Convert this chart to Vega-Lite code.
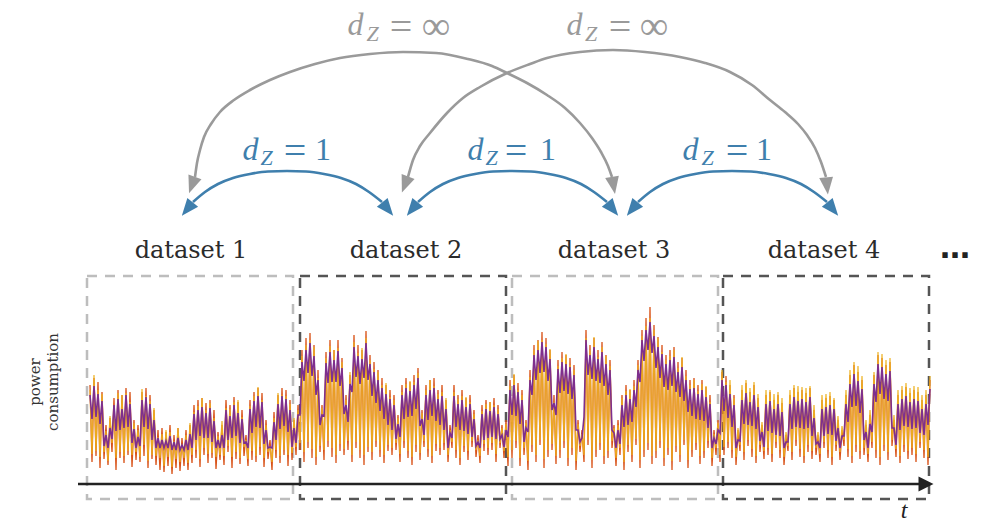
{
"$schema":"https://vega.github.io/schema/vega-lite/v6.json",
"width":982,"height":527,"padding":0,"autosize":{"type":"none"},"background":"white",
"config":{"view":{"stroke":null}},
"datasets":{
"boxes":[{"x":87,"x2":293,"y":276,"y2":499,"k":"light"},{"x":300,"x2":506,"y":276,"y2":499,"k":"dark"},{"x":512,"x2":718,"y":276,"y2":499,"k":"light"},{"x":723,"x2":929,"y":276,"y2":499,"k":"dark"}],
"ts":[
{"x":90,"r":385,"o":390,"p":395},{"x":92,"r":462,"o":454,"p":419},{"x":94,"r":378,"o":375,"p":386},{"x":96,"r":456,"o":451,"p":417},{"x":98,"r":382,"o":390,"p":394},{"x":100,"r":468,"o":457,"p":424},{"x":102,"r":392,"o":394,"p":401},{"x":104,"r":459,"o":452,"p":446},{"x":106,"r":425,"o":431,"p":435},{"x":108,"r":465,"o":461,"p":448},{"x":110,"r":418,"o":416,"p":428},{"x":112,"r":452,"o":443,"p":439},{"x":114,"r":398,"o":408,"p":405},{"x":116,"r":470,"o":458,"p":431},{"x":118,"r":390,"o":393,"p":399},{"x":120,"r":458,"o":452,"p":430},{"x":122,"r":395,"o":395,"p":409},{"x":124,"r":463,"o":456,"p":428},{"x":126,"r":388,"o":393,"p":395},{"x":128,"r":455,"o":451,"p":427},{"x":130,"r":392,"o":402,"p":404},{"x":132,"r":467,"o":455,"p":443},{"x":134,"r":420,"o":423,"p":429},{"x":136,"r":460,"o":452,"p":448},{"x":138,"r":425,"o":430,"p":437},{"x":140,"r":462,"o":457,"p":446},{"x":142,"r":392,"o":389,"p":400},{"x":144,"r":456,"o":445,"p":427},{"x":146,"r":388,"o":396,"p":397},{"x":148,"r":468,"o":461,"p":429},{"x":150,"r":395,"o":401,"p":404},{"x":152,"r":459,"o":455,"p":440},{"x":154,"r":410,"o":408,"p":420},{"x":156,"r":465,"o":456,"p":448},{"x":158,"r":430,"o":437,"p":438},{"x":160,"r":470,"o":458,"p":448},{"x":162,"r":428,"o":434,"p":440},{"x":164,"r":472,"o":466,"p":448},{"x":166,"r":432,"o":430,"p":441},{"x":168,"r":466,"o":457,"p":448},{"x":170,"r":425,"o":432,"p":436},{"x":172,"r":474,"o":467,"p":450},{"x":174,"r":435,"o":441,"p":442},{"x":176,"r":468,"o":459,"p":450},{"x":178,"r":428,"o":428,"p":438},{"x":180,"r":471,"o":462,"p":450},{"x":182,"r":438,"o":444,"p":445},{"x":184,"r":466,"o":458,"p":450},{"x":186,"r":430,"o":435,"p":440},{"x":188,"r":470,"o":463,"p":450},{"x":190,"r":425,"o":423,"p":434},{"x":192,"r":463,"o":455,"p":448},{"x":194,"r":405,"o":412,"p":414},{"x":196,"r":458,"o":450,"p":440},{"x":198,"r":400,"o":406,"p":410},{"x":200,"r":467,"o":459,"p":436},{"x":202,"r":398,"o":398,"p":407},{"x":204,"r":455,"o":448,"p":438},{"x":206,"r":403,"o":410,"p":413},{"x":208,"r":463,"o":454,"p":438},{"x":210,"r":400,"o":403,"p":408},{"x":212,"r":458,"o":453,"p":442},{"x":214,"r":410,"o":418,"p":421},{"x":216,"r":469,"o":457,"p":448},{"x":218,"r":432,"o":436,"p":440},{"x":220,"r":460,"o":455,"p":448},{"x":222,"r":425,"o":421,"p":435},{"x":224,"r":465,"o":456,"p":448},{"x":226,"r":400,"o":408,"p":410},{"x":228,"r":452,"o":446,"p":440},{"x":230,"r":405,"o":409,"p":416},{"x":232,"r":468,"o":457,"p":438},{"x":234,"r":397,"o":402,"p":405},{"x":236,"r":459,"o":452,"p":436},{"x":238,"r":402,"o":400,"p":413},{"x":240,"r":464,"o":458,"p":443},{"x":242,"r":410,"o":417,"p":419},{"x":244,"r":456,"o":447,"p":443},{"x":246,"r":435,"o":440,"p":442},{"x":248,"r":466,"o":459,"p":448},{"x":250,"r":400,"o":406,"p":409},{"x":252,"r":460,"o":451,"p":433},{"x":254,"r":392,"o":396,"p":401},{"x":256,"r":462,"o":456,"p":427},{"x":258,"r":388,"o":387,"p":396},{"x":260,"r":455,"o":447,"p":428},{"x":262,"r":393,"o":400,"p":402},{"x":264,"r":467,"o":458,"p":444},{"x":266,"r":420,"o":425,"p":430},{"x":268,"r":459,"o":452,"p":448},{"x":270,"r":440,"o":446,"p":447},{"x":272,"r":470,"o":462,"p":448},{"x":274,"r":412,"o":418,"p":422},{"x":276,"r":458,"o":450,"p":440},{"x":278,"r":395,"o":393,"p":404},{"x":280,"r":463,"o":456,"p":429},{"x":282,"r":388,"o":395,"p":396},{"x":284,"r":455,"o":450,"p":426},{"x":286,"r":390,"o":396,"p":399},{"x":288,"r":466,"o":455,"p":432},{"x":290,"r":400,"o":404,"p":410},{"x":292,"r":460,"o":453,"p":447},{"x":294,"r":420,"o":418,"p":428},{"x":296,"r":455,"o":447,"p":443},{"x":298,"r":405,"o":410,"p":415},{"x":300,"r":450,"o":443,"p":415},
{"x":302,"r":350,"o":356,"p":362},{"x":304,"r":462,"o":452,"p":381},{"x":306,"r":338,"o":345,"p":350},{"x":308,"r":448,"o":442,"p":373},{"x":310,"r":333,"o":340,"p":343},{"x":312,"r":458,"o":449,"p":376},{"x":314,"r":345,"o":347,"p":356},{"x":316,"r":465,"o":457,"p":395},{"x":318,"r":370,"o":378,"p":380},{"x":320,"r":452,"o":446,"p":425},{"x":322,"r":405,"o":408,"p":415},{"x":324,"r":460,"o":450,"p":416},{"x":326,"r":352,"o":358,"p":363},{"x":328,"r":447,"o":441,"p":383},{"x":330,"r":340,"o":346,"p":352},{"x":332,"r":457,"o":448,"p":382},{"x":334,"r":350,"o":350,"p":360},{"x":336,"r":463,"o":455,"p":382},{"x":338,"r":340,"o":348,"p":351},{"x":340,"r":451,"o":444,"p":386},{"x":342,"r":358,"o":362,"p":368},{"x":344,"r":455,"o":449,"p":414},{"x":346,"r":395,"o":400,"p":405},{"x":348,"r":450,"o":441,"p":422},{"x":350,"r":375,"o":372,"p":384},{"x":352,"r":462,"o":455,"p":392},{"x":354,"r":335,"o":342,"p":347},{"x":356,"r":448,"o":442,"p":377},{"x":358,"r":345,"o":353,"p":356},{"x":360,"r":458,"o":450,"p":384},{"x":362,"r":350,"o":348,"p":359},{"x":364,"r":465,"o":455,"p":378},{"x":366,"r":331,"o":338,"p":343},{"x":368,"r":452,"o":447,"p":380},{"x":370,"r":355,"o":360,"p":364},{"x":372,"r":460,"o":452,"p":396},{"x":374,"r":362,"o":369,"p":372},{"x":376,"r":447,"o":441,"p":403},{"x":378,"r":370,"o":372,"p":380},{"x":380,"r":457,"o":450,"p":411},{"x":382,"r":378,"o":385,"p":388},{"x":384,"r":463,"o":455,"p":419},{"x":386,"r":385,"o":383,"p":394},{"x":388,"r":451,"o":445,"p":425},{"x":390,"r":390,"o":397,"p":399},{"x":392,"r":455,"o":448,"p":430},{"x":394,"r":395,"o":400,"p":405},{"x":396,"r":450,"o":443,"p":439},{"x":398,"r":415,"o":418,"p":424},{"x":400,"r":462,"o":454,"p":437},{"x":402,"r":385,"o":392,"p":395},{"x":404,"r":448,"o":441,"p":419},{"x":406,"r":378,"o":384,"p":388},{"x":408,"r":458,"o":451,"p":417},{"x":410,"r":382,"o":381,"p":391},{"x":412,"r":465,"o":457,"p":416},{"x":414,"r":375,"o":382,"p":385},{"x":416,"r":452,"o":445,"p":409},{"x":418,"r":368,"o":373,"p":378},{"x":420,"r":460,"o":453,"p":426},{"x":422,"r":410,"o":413,"p":419},{"x":424,"r":447,"o":441,"p":435},{"x":426,"r":385,"o":390,"p":395},{"x":428,"r":457,"o":449,"p":420},{"x":430,"r":380,"o":380,"p":390},{"x":432,"r":463,"o":456,"p":416},{"x":434,"r":378,"o":386,"p":388},{"x":436,"r":451,"o":444,"p":421},{"x":438,"r":390,"o":394,"p":399},{"x":440,"r":455,"o":448,"p":425},{"x":442,"r":385,"o":392,"p":396},{"x":444,"r":450,"o":443,"p":430},{"x":446,"r":400,"o":398,"p":409},{"x":448,"r":462,"o":455,"p":448},{"x":450,"r":425,"o":430,"p":433},{"x":452,"r":448,"o":442,"p":438},{"x":454,"r":385,"o":392,"p":396},{"x":456,"r":458,"o":450,"p":427},{"x":458,"r":395,"o":399,"p":404},{"x":460,"r":465,"o":458,"p":430},{"x":462,"r":390,"o":396,"p":400},{"x":464,"r":452,"o":446,"p":431},{"x":466,"r":398,"o":397,"p":407},{"x":468,"r":460,"o":451,"p":434},{"x":470,"r":395,"o":402,"p":404},{"x":472,"r":447,"o":441,"p":437},{"x":474,"r":410,"o":414,"p":419},{"x":476,"r":457,"o":450,"p":446},{"x":478,"r":435,"o":440,"p":442},{"x":480,"r":463,"o":456,"p":448},{"x":482,"r":405,"o":411,"p":414},{"x":484,"r":451,"o":444,"p":440},{"x":486,"r":400,"o":404,"p":409},{"x":488,"r":455,"o":448,"p":438},{"x":490,"r":402,"o":402,"p":411},{"x":492,"r":450,"o":443,"p":437},{"x":494,"r":398,"o":405,"p":407},{"x":496,"r":462,"o":454,"p":439},{"x":498,"r":405,"o":409,"p":414},{"x":500,"r":448,"o":443,"p":439},{"x":502,"r":425,"o":428,"p":435},{"x":504,"r":458,"o":451,"p":447},{"x":506,"r":420,"o":424,"p":430},{"x":508,"r":466,"o":457,"p":437},
{"x":510,"r":380,"o":386,"p":390},{"x":512,"r":458,"o":450,"p":415},{"x":514,"r":375,"o":374,"p":385},{"x":516,"r":448,"o":441,"p":416},{"x":518,"r":383,"o":390,"p":392},{"x":520,"r":466,"o":458,"p":424},{"x":522,"r":390,"o":395,"p":400},{"x":524,"r":455,"o":448,"p":442},{"x":526,"r":420,"o":423,"p":428},{"x":528,"r":470,"o":461,"p":432},{"x":530,"r":370,"o":377,"p":380},{"x":532,"r":452,"o":445,"p":395},{"x":534,"r":345,"o":350,"p":355},{"x":536,"r":462,"o":455,"p":380},{"x":538,"r":340,"o":341,"p":350},{"x":540,"r":445,"o":440,"p":373},{"x":542,"r":332,"o":340,"p":342},{"x":544,"r":468,"o":459,"p":372},{"x":546,"r":338,"o":344,"p":347},{"x":548,"r":457,"o":450,"p":381},{"x":550,"r":350,"o":349,"p":359},{"x":552,"r":450,"o":444,"p":410},{"x":554,"r":395,"o":402,"p":403},{"x":556,"r":464,"o":456,"p":415},{"x":558,"r":360,"o":366,"p":369},{"x":560,"r":458,"o":450,"p":393},{"x":562,"r":352,"o":358,"p":362},{"x":564,"r":448,"o":441,"p":391},{"x":566,"r":355,"o":354,"p":364},{"x":568,"r":466,"o":458,"p":394},{"x":570,"r":358,"o":365,"p":367},{"x":572,"r":455,"o":448,"p":399},{"x":574,"r":365,"o":370,"p":375},{"x":576,"r":470,"o":461,"p":430},{"x":578,"r":420,"o":424,"p":430},{"x":580,"r":452,"o":446,"p":442},{"x":582,"r":430,"o":434,"p":438},{"x":584,"r":462,"o":455,"p":417},{"x":586,"r":330,"o":338,"p":340},{"x":588,"r":445,"o":440,"p":375},{"x":590,"r":345,"o":350,"p":355},{"x":592,"r":468,"o":460,"p":379},{"x":594,"r":338,"o":337,"p":347},{"x":596,"r":457,"o":450,"p":381},{"x":598,"r":350,"o":357,"p":359},{"x":600,"r":450,"o":443,"p":383},{"x":602,"r":342,"o":347,"p":352},{"x":604,"r":464,"o":456,"p":386},{"x":606,"r":355,"o":356,"p":364},{"x":608,"r":458,"o":451,"p":395},{"x":610,"r":360,"o":366,"p":370},{"x":612,"r":448,"o":441,"p":430},{"x":614,"r":425,"o":428,"p":433},{"x":616,"r":466,"o":458,"p":448},{"x":618,"r":420,"o":425,"p":430},{"x":620,"r":455,"o":448,"p":444},{"x":622,"r":395,"o":398,"p":405},{"x":624,"r":470,"o":462,"p":427},{"x":626,"r":385,"o":391,"p":395},{"x":628,"r":452,"o":445,"p":425},{"x":630,"r":390,"o":389,"p":399},{"x":632,"r":462,"o":455,"p":422},{"x":634,"r":380,"o":386,"p":390},{"x":636,"r":445,"o":439,"p":407},{"x":638,"r":360,"o":365,"p":370},{"x":640,"r":468,"o":460,"p":382},{"x":642,"r":330,"o":336,"p":340},{"x":644,"r":457,"o":450,"p":361},{"x":646,"r":318,"o":326,"p":330},{"x":648,"r":450,"o":443,"p":350},{"x":650,"r":307,"o":318,"p":322},{"x":652,"r":464,"o":456,"p":353},{"x":654,"r":325,"o":330,"p":336},{"x":656,"r":458,"o":451,"p":368},{"x":658,"r":337,"o":338,"p":347},{"x":660,"r":448,"o":441,"p":378},{"x":662,"r":345,"o":352,"p":354},{"x":664,"r":466,"o":458,"p":387},{"x":666,"r":355,"o":360,"p":364},{"x":668,"r":455,"o":448,"p":390},{"x":670,"r":350,"o":356,"p":360},{"x":672,"r":470,"o":461,"p":386},{"x":674,"r":347,"o":350,"p":357},{"x":676,"r":452,"o":446,"p":392},{"x":678,"r":362,"o":368,"p":372},{"x":680,"r":462,"o":455,"p":397},{"x":682,"r":358,"o":357,"p":367},{"x":684,"r":445,"o":440,"p":401},{"x":686,"r":370,"o":376,"p":380},{"x":688,"r":468,"o":460,"p":412},{"x":690,"r":380,"o":385,"p":389},{"x":692,"r":457,"o":450,"p":416},{"x":694,"r":378,"o":380,"p":388},{"x":696,"r":450,"o":443,"p":419},{"x":698,"r":385,"o":391,"p":394},{"x":700,"r":464,"o":456,"p":420},{"x":702,"r":380,"o":384,"p":390},{"x":704,"r":458,"o":451,"p":421},{"x":706,"r":387,"o":386,"p":397},{"x":708,"r":448,"o":441,"p":428},{"x":710,"r":395,"o":402,"p":404},{"x":712,"r":466,"o":458,"p":448},{"x":714,"r":430,"o":434,"p":438},{"x":716,"r":455,"o":448,"p":444},{"x":718,"r":420,"o":423,"p":430},{"x":720,"r":462,"o":455,"p":433},
{"x":722,"r":372,"o":370,"p":380},{"x":724,"r":455,"o":447,"p":411},{"x":726,"r":376,"o":382,"p":385},{"x":728,"r":448,"o":442,"p":418},{"x":730,"r":385,"o":380,"p":394},{"x":732,"r":458,"o":450,"p":427},{"x":734,"r":395,"o":398,"p":405},{"x":736,"r":465,"o":457,"p":448},{"x":738,"r":430,"o":428,"p":440},{"x":740,"r":451,"o":445,"p":441},{"x":742,"r":390,"o":385,"p":400},{"x":744,"r":460,"o":452,"p":424},{"x":746,"r":383,"o":380,"p":393},{"x":748,"r":446,"o":440,"p":425},{"x":750,"r":392,"o":388,"p":402},{"x":752,"r":457,"o":449,"p":426},{"x":754,"r":385,"o":382,"p":395},{"x":756,"r":463,"o":456,"p":429},{"x":758,"r":398,"o":394,"p":407},{"x":760,"r":452,"o":445,"p":441},{"x":762,"r":425,"o":422,"p":432},{"x":764,"r":459,"o":451,"p":447},{"x":766,"r":395,"o":390,"p":404},{"x":768,"r":455,"o":448,"p":431},{"x":770,"r":392,"o":390,"p":401},{"x":772,"r":462,"o":454,"p":433},{"x":774,"r":400,"o":394,"p":409},{"x":776,"r":448,"o":442,"p":435},{"x":778,"r":395,"o":392,"p":404},{"x":780,"r":458,"o":450,"p":436},{"x":782,"r":403,"o":398,"p":412},{"x":784,"r":465,"o":457,"p":448},{"x":786,"r":435,"o":432,"p":442},{"x":788,"r":451,"o":446,"p":442},{"x":790,"r":395,"o":390,"p":404},{"x":792,"r":460,"o":452,"p":429},{"x":794,"r":388,"o":385,"p":397},{"x":796,"r":446,"o":440,"p":427},{"x":798,"r":392,"o":386,"p":401},{"x":800,"r":457,"o":449,"p":428},{"x":802,"r":390,"o":387,"p":399},{"x":804,"r":463,"o":456,"p":429},{"x":806,"r":393,"o":388,"p":402},{"x":808,"r":452,"o":445,"p":428},{"x":810,"r":388,"o":386,"p":397},{"x":812,"r":459,"o":451,"p":436},{"x":814,"r":410,"o":405,"p":418},{"x":816,"r":455,"o":448,"p":444},{"x":818,"r":435,"o":432,"p":442},{"x":820,"r":462,"o":454,"p":448},{"x":822,"r":400,"o":395,"p":409},{"x":824,"r":448,"o":442,"p":436},{"x":826,"r":398,"o":394,"p":407},{"x":828,"r":458,"o":450,"p":434},{"x":830,"r":396,"o":392,"p":405},{"x":832,"r":465,"o":457,"p":435},{"x":834,"r":400,"o":398,"p":409},{"x":836,"r":451,"o":445,"p":441},{"x":838,"r":420,"o":416,"p":428},{"x":840,"r":460,"o":452,"p":448},{"x":842,"r":430,"o":426,"p":436},{"x":844,"r":446,"o":440,"p":436},{"x":846,"r":395,"o":390,"p":404},{"x":848,"r":457,"o":449,"p":422},{"x":850,"r":375,"o":370,"p":384},{"x":852,"r":463,"o":456,"p":407},{"x":854,"r":365,"o":362,"p":374},{"x":856,"r":452,"o":445,"p":406},{"x":858,"r":372,"o":366,"p":381},{"x":860,"r":459,"o":451,"p":413},{"x":862,"r":380,"o":376,"p":389},{"x":864,"r":455,"o":448,"p":440},{"x":866,"r":425,"o":420,"p":432},{"x":868,"r":462,"o":454,"p":448},{"x":870,"r":415,"o":410,"p":424},{"x":872,"r":448,"o":442,"p":432},{"x":874,"r":375,"o":372,"p":384},{"x":876,"r":458,"o":450,"p":402},{"x":878,"r":355,"o":352,"p":364},{"x":880,"r":465,"o":457,"p":394},{"x":882,"r":358,"o":354,"p":367},{"x":884,"r":451,"o":445,"p":399},{"x":886,"r":365,"o":360,"p":374},{"x":888,"r":460,"o":452,"p":401},{"x":890,"r":362,"o":358,"p":371},{"x":892,"r":446,"o":440,"p":428},{"x":894,"r":420,"o":415,"p":428},{"x":896,"r":457,"o":449,"p":445},{"x":898,"r":395,"o":390,"p":404},{"x":900,"r":463,"o":456,"p":430},{"x":902,"r":390,"o":386,"p":399},{"x":904,"r":452,"o":445,"p":426},{"x":906,"r":387,"o":383,"p":396},{"x":908,"r":459,"o":451,"p":427},{"x":910,"r":393,"o":388,"p":402},{"x":912,"r":455,"o":448,"p":429},{"x":914,"r":390,"o":386,"p":399},{"x":916,"r":462,"o":454,"p":428},{"x":918,"r":392,"o":387,"p":401},{"x":920,"r":448,"o":442,"p":433},{"x":922,"r":400,"o":395,"p":409},{"x":924,"r":458,"o":450,"p":435},{"x":926,"r":395,"o":390,"p":404},{"x":928,"r":465,"o":457,"p":425},{"x":930,"r":380,"o":376,"p":389}
],
"arcs":[
{"id":"g1","k":"inf","x":195,"y":177},{"id":"g1","k":"inf","x":197,"y":163},{"id":"g1","k":"inf","x":200,"y":150},{"id":"g1","k":"inf","x":204,"y":137},{"id":"g1","k":"inf","x":211,"y":124},{"id":"g1","k":"inf","x":220,"y":112},{"id":"g1","k":"inf","x":234,"y":100},{"id":"g1","k":"inf","x":250,"y":90},{"id":"g1","k":"inf","x":270,"y":80},{"id":"g1","k":"inf","x":290,"y":72},{"id":"g1","k":"inf","x":315,"y":64},{"id":"g1","k":"inf","x":340,"y":58},{"id":"g1","k":"inf","x":370,"y":54},{"id":"g1","k":"inf","x":403,"y":52},{"id":"g1","k":"inf","x":436,"y":53},{"id":"g1","k":"inf","x":468,"y":59},{"id":"g1","k":"inf","x":492,"y":66},{"id":"g1","k":"inf","x":507,"y":73},{"id":"g1","k":"inf","x":527,"y":83},{"id":"g1","k":"inf","x":547,"y":95},{"id":"g1","k":"inf","x":565,"y":108},{"id":"g1","k":"inf","x":580,"y":123},{"id":"g1","k":"inf","x":592,"y":138},{"id":"g1","k":"inf","x":601,"y":152},{"id":"g1","k":"inf","x":608,"y":166},{"id":"g1","k":"inf","x":612,"y":177},
{"id":"g2","k":"inf","x":408,"y":177},{"id":"g2","k":"inf","x":413,"y":160},{"id":"g2","k":"inf","x":420,"y":146},{"id":"g2","k":"inf","x":430,"y":133},{"id":"g2","k":"inf","x":447,"y":113},{"id":"g2","k":"inf","x":463,"y":98},{"id":"g2","k":"inf","x":480,"y":87},{"id":"g2","k":"inf","x":507,"y":73},{"id":"g2","k":"inf","x":530,"y":64},{"id":"g2","k":"inf","x":547,"y":58},{"id":"g2","k":"inf","x":580,"y":52},{"id":"g2","k":"inf","x":613,"y":50},{"id":"g2","k":"inf","x":645,"y":52},{"id":"g2","k":"inf","x":680,"y":57},{"id":"g2","k":"inf","x":705,"y":63},{"id":"g2","k":"inf","x":730,"y":72},{"id":"g2","k":"inf","x":752,"y":85},{"id":"g2","k":"inf","x":770,"y":100},{"id":"g2","k":"inf","x":785,"y":112},{"id":"g2","k":"inf","x":798,"y":124},{"id":"g2","k":"inf","x":807,"y":135},{"id":"g2","k":"inf","x":815,"y":148},{"id":"g2","k":"inf","x":821,"y":162},{"id":"g2","k":"inf","x":826,"y":177},
{"id":"b1","k":"one","x":193,"y":202},{"id":"b1","k":"one","x":205,"y":192},{"id":"b1","k":"one","x":218,"y":184},{"id":"b1","k":"one","x":233,"y":178},{"id":"b1","k":"one","x":250,"y":174},{"id":"b1","k":"one","x":268,"y":171.5},{"id":"b1","k":"one","x":287,"y":171},{"id":"b1","k":"one","x":306,"y":171.5},{"id":"b1","k":"one","x":324,"y":174},{"id":"b1","k":"one","x":341,"y":178},{"id":"b1","k":"one","x":356,"y":184},{"id":"b1","k":"one","x":369,"y":192},{"id":"b1","k":"one","x":382,"y":202},
{"id":"b2","k":"one","x":418,"y":202},{"id":"b2","k":"one","x":430,"y":192},{"id":"b2","k":"one","x":443,"y":184},{"id":"b2","k":"one","x":458,"y":178},{"id":"b2","k":"one","x":475,"y":174},{"id":"b2","k":"one","x":493,"y":171.5},{"id":"b2","k":"one","x":512,"y":171},{"id":"b2","k":"one","x":531,"y":171.5},{"id":"b2","k":"one","x":549,"y":174},{"id":"b2","k":"one","x":566,"y":178},{"id":"b2","k":"one","x":581,"y":184},{"id":"b2","k":"one","x":594,"y":192},{"id":"b2","k":"one","x":607,"y":202},
{"id":"b3","k":"one","x":638,"y":202},{"id":"b3","k":"one","x":650,"y":192},{"id":"b3","k":"one","x":663,"y":184},{"id":"b3","k":"one","x":678,"y":178},{"id":"b3","k":"one","x":695,"y":174},{"id":"b3","k":"one","x":713,"y":171.5},{"id":"b3","k":"one","x":732,"y":171},{"id":"b3","k":"one","x":751,"y":171.5},{"id":"b3","k":"one","x":769,"y":174},{"id":"b3","k":"one","x":786,"y":178},{"id":"b3","k":"one","x":801,"y":184},{"id":"b3","k":"one","x":814,"y":192},{"id":"b3","k":"one","x":827,"y":202}
],
"heads":[
{"k":"inf","x":192,"y":185,"a":200},{"k":"inf","x":613.5,"y":185.4,"a":170},{"k":"inf","x":405,"y":184.5,"a":201},{"k":"inf","x":827,"y":186,"a":174},
{"k":"one","x":187.3,"y":209,"a":219},{"k":"one","x":387.7,"y":209,"a":141},{"k":"one","x":412.3,"y":209,"a":219},{"k":"one","x":612.7,"y":209,"a":141},{"k":"one","x":632.3,"y":209,"a":219},{"k":"one","x":832.7,"y":209,"a":141}
],
"md":[{"x":355.5,"y":35,"k":"inf"},{"x":574.5,"y":35,"k":"inf"},{"x":250.5,"y":160,"k":"one"},{"x":475.5,"y":160,"k":"one"},{"x":690.5,"y":160,"k":"one"}],
"mz":[{"x":372.5,"y":41,"k":"inf"},{"x":591,"y":41,"k":"inf"},{"x":266.5,"y":165,"k":"one"},{"x":491.5,"y":165,"k":"one"},{"x":707.5,"y":165,"k":"one"}],
"mr":[{"x":401,"y":40,"k":"inf","t":"="},{"x":436,"y":39,"k":"inf","t":"∞"},{"x":620,"y":40,"k":"inf","t":"="},{"x":654,"y":39,"k":"inf","t":"∞"},{"x":295,"y":164,"k":"one","t":"="},{"x":516,"y":164,"k":"one","t":"="},{"x":737,"y":164,"k":"one","t":"="}],
"m1":[{"x":323,"y":160,"k":"one","t":"1"},{"x":548,"y":160,"k":"one","t":"1"},{"x":764,"y":160,"k":"one","t":"1"}],
"labels":[{"x":191,"y":258,"t":"dataset 1"},{"x":406,"y":258,"t":"dataset 2"},{"x":614,"y":258,"t":"dataset 3"},{"x":824,"y":258,"t":"dataset 4"}]
},
"layer":[
{"data":{"name":"boxes"},"mark":{"type":"rect","filled":false,"strokeWidth":2.5,"strokeDash":[10,8]},
 "encoding":{"x":{"field":"x","type":"quantitative","scale":{"domain":[0,982],"nice":false,"zero":false},"axis":null},"x2":{"field":"x2"},
 "y":{"field":"y","type":"quantitative","scale":{"domain":[0,527],"reverse":true,"nice":false,"zero":false},"axis":null},"y2":{"field":"y2"},
 "stroke":{"field":"k","type":"nominal","scale":{"domain":["light","dark"],"range":["#bdbdbd","#555555"]},"legend":null}}},
{"data":{"name":"ts"},"mark":{"type":"line","color":"#D95319","strokeWidth":1.3},
 "encoding":{"x":{"field":"x","type":"quantitative","scale":{"domain":[0,982],"nice":false,"zero":false},"axis":null},
 "y":{"field":"r","type":"quantitative","scale":{"domain":[0,527],"reverse":true,"nice":false,"zero":false},"axis":null}}},
{"data":{"name":"ts"},"mark":{"type":"line","color":"#EDB120","strokeWidth":1.3,"opacity":0.9},
 "encoding":{"x":{"field":"x","type":"quantitative","scale":{"domain":[0,982],"nice":false,"zero":false},"axis":null},
 "y":{"field":"o","type":"quantitative","scale":{"domain":[0,527],"reverse":true,"nice":false,"zero":false},"axis":null}}},
{"data":{"name":"ts"},"mark":{"type":"line","color":"#7E2F8E","strokeWidth":1.6},
 "encoding":{"x":{"field":"x","type":"quantitative","scale":{"domain":[0,982],"nice":false,"zero":false},"axis":null},
 "y":{"field":"p","type":"quantitative","scale":{"domain":[0,527],"reverse":true,"nice":false,"zero":false},"axis":null}}},
{"data":{"values":[{"x":78,"x2":920,"y":484}]},"mark":{"type":"rule","color":"#222222","strokeWidth":2.5},
 "encoding":{"x":{"field":"x","type":"quantitative","scale":{"domain":[0,982],"nice":false,"zero":false},"axis":null},"x2":{"field":"x2"},
 "y":{"field":"y","type":"quantitative","scale":{"domain":[0,527],"reverse":true,"nice":false,"zero":false},"axis":null}}},
{"data":{"values":[{"x":926,"y":484}]},"mark":{"type":"point","shape":"M-1,-1L1,0L-1,1Z","size":225,"filled":true,"opacity":1,"color":"#222222"},
 "encoding":{"x":{"field":"x","type":"quantitative","scale":{"domain":[0,982],"nice":false,"zero":false},"axis":null},
 "y":{"field":"y","type":"quantitative","scale":{"domain":[0,527],"reverse":true,"nice":false,"zero":false},"axis":null}}},
{"data":{"name":"arcs"},"mark":{"type":"line","strokeWidth":2.6,"interpolate":"monotone"},
 "encoding":{"x":{"field":"x","type":"quantitative","scale":{"domain":[0,982],"nice":false,"zero":false},"axis":null},
 "y":{"field":"y","type":"quantitative","scale":{"domain":[0,527],"reverse":true,"nice":false,"zero":false},"axis":null},
 "detail":{"field":"id","type":"nominal"},
 "color":{"field":"k","type":"nominal","scale":{"domain":["inf","one"],"range":["#9a9a9a","#3f7fad"]},"legend":null}}},
{"data":{"name":"heads"},"mark":{"type":"point","shape":"M0,-1L0.8,1L-0.8,1Z","size":300,"filled":true,"opacity":1},
 "encoding":{"x":{"field":"x","type":"quantitative","scale":{"domain":[0,982],"nice":false,"zero":false},"axis":null},
 "y":{"field":"y","type":"quantitative","scale":{"domain":[0,527],"reverse":true,"nice":false,"zero":false},"axis":null},
 "angle":{"field":"a","type":"quantitative","scale":null},
 "color":{"field":"k","type":"nominal","scale":{"domain":["inf","one"],"range":["#9a9a9a","#3f7fad"]},"legend":null}}},
{"data":{"name":"labels"},"mark":{"type":"text","font":"DejaVu Serif","fontSize":24,"color":"#2b2b2b","align":"center","baseline":"alphabetic"},
 "encoding":{"x":{"field":"x","type":"quantitative","scale":{"domain":[0,982],"nice":false,"zero":false},"axis":null},
 "y":{"field":"y","type":"quantitative","scale":{"domain":[0,527],"reverse":true,"nice":false,"zero":false},"axis":null},
 "text":{"field":"t"}}},
{"data":{"values":[{"x":955,"y":258,"t":"…"}]},"mark":{"type":"text","font":"DejaVu Sans","fontSize":30,"fontWeight":"bold","color":"#222222","align":"center","baseline":"alphabetic"},
 "encoding":{"x":{"field":"x","type":"quantitative","scale":{"domain":[0,982],"nice":false,"zero":false},"axis":null},
 "y":{"field":"y","type":"quantitative","scale":{"domain":[0,527],"reverse":true,"nice":false,"zero":false},"axis":null},
 "text":{"field":"t"}}},
{"data":{"values":[{"x":35,"y":382,"t":"power"},{"x":53,"y":382,"t":"consumption"}]},"mark":{"type":"text","font":"DejaVu Serif","fontSize":15,"color":"#333333","align":"center","baseline":"middle","angle":270},
 "encoding":{"x":{"field":"x","type":"quantitative","scale":{"domain":[0,982],"nice":false,"zero":false},"axis":null},
 "y":{"field":"y","type":"quantitative","scale":{"domain":[0,527],"reverse":true,"nice":false,"zero":false},"axis":null},
 "text":{"field":"t"}}},
{"data":{"values":[{"x":904,"y":518,"t":"t"}]},"mark":{"type":"text","font":"Liberation Serif","fontStyle":"italic","fontSize":24,"color":"#222222","align":"center","baseline":"alphabetic"},
 "encoding":{"x":{"field":"x","type":"quantitative","scale":{"domain":[0,982],"nice":false,"zero":false},"axis":null},
 "y":{"field":"y","type":"quantitative","scale":{"domain":[0,527],"reverse":true,"nice":false,"zero":false},"axis":null},
 "text":{"field":"t"}}},
{"data":{"name":"md"},"mark":{"type":"text","font":"Liberation Serif","fontStyle":"italic","fontSize":32,"align":"center","baseline":"alphabetic"},
 "encoding":{"x":{"field":"x","type":"quantitative","scale":{"domain":[0,982],"nice":false,"zero":false},"axis":null},
 "y":{"field":"y","type":"quantitative","scale":{"domain":[0,527],"reverse":true,"nice":false,"zero":false},"axis":null},
 "text":{"value":"d"},
 "color":{"field":"k","type":"nominal","scale":{"domain":["inf","one"],"range":["#9a9a9a","#3f7fad"]},"legend":null}}},
{"data":{"name":"mz"},"mark":{"type":"text","font":"Liberation Serif","fontStyle":"italic","fontSize":22,"align":"center","baseline":"alphabetic"},
 "encoding":{"x":{"field":"x","type":"quantitative","scale":{"domain":[0,982],"nice":false,"zero":false},"axis":null},
 "y":{"field":"y","type":"quantitative","scale":{"domain":[0,527],"reverse":true,"nice":false,"zero":false},"axis":null},
 "text":{"value":"Z"},
 "color":{"field":"k","type":"nominal","scale":{"domain":["inf","one"],"range":["#9a9a9a","#3f7fad"]},"legend":null}}},
{"data":{"name":"mr"},"mark":{"type":"text","font":"Liberation Serif","fontSize":40,"align":"center","baseline":"alphabetic"},
 "encoding":{"x":{"field":"x","type":"quantitative","scale":{"domain":[0,982],"nice":false,"zero":false},"axis":null},
 "y":{"field":"y","type":"quantitative","scale":{"domain":[0,527],"reverse":true,"nice":false,"zero":false},"axis":null},
 "text":{"field":"t"},
 "color":{"field":"k","type":"nominal","scale":{"domain":["inf","one"],"range":["#9a9a9a","#3f7fad"]},"legend":null}}},
{"data":{"name":"m1"},"mark":{"type":"text","font":"Liberation Serif","fontSize":32,"align":"center","baseline":"alphabetic"},
 "encoding":{"x":{"field":"x","type":"quantitative","scale":{"domain":[0,982],"nice":false,"zero":false},"axis":null},
 "y":{"field":"y","type":"quantitative","scale":{"domain":[0,527],"reverse":true,"nice":false,"zero":false},"axis":null},
 "text":{"field":"t"},
 "color":{"field":"k","type":"nominal","scale":{"domain":["inf","one"],"range":["#9a9a9a","#3f7fad"]},"legend":null}}}
]
}
